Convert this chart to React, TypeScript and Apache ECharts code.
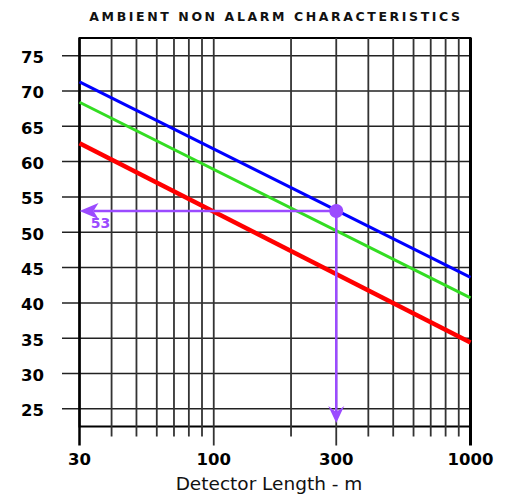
import React, { useEffect, useRef } from "react";
import * as echarts from "echarts";

// ---- chart content ----
const chartTitle = "AMBIENT NON ALARM CHARACTERISTICS";
const xAxisTitle = "Detector Length - m";
const xGridValues = [30, 40, 50, 60, 70, 80, 90, 100, 200, 300, 400, 500, 600, 700, 800, 900, 1000];
const xTickLabels = [30, 100, 300, 1000];
const yTickValues = [25, 30, 35, 40, 45, 50, 55, 60, 65, 70, 75];
const lineX = [30, 1000];
const blueValues = [71.3, 43.6];
const greenValues = [68.4, 40.7];
const redValues = [62.6, 34.4];
const markerX = 300;
const markerY = 53;
const markerLabel = "53";
const arrowDownTo = 23;

const X_MIN = 30;
const X_MAX = 1000;
const Y_MIN = 22.5;
const Y_MAX = 77.5;

const PURPLE = "#9b4bff";
const FONT = '"DejaVu Sans", sans-serif';

export default function App() {
  const ref = useRef<HTMLDivElement>(null);

  useEffect(() => {
    if (!ref.current) return;
    const chart = echarts.init(ref.current, undefined, { renderer: "svg" });

    const toPairs = (vals: number[]) => lineX.map((x, i) => [x, vals[i]]);

    const option: any = {
      animation: false,
      backgroundColor: "#fff",
      grid: {
        left: 79.5,
        right: 38.5,
        top: 38,
        bottom: 69.5,
        show: true,
        borderColor: "#000",
        borderWidth: 2,
        backgroundColor: "transparent",
      },
      xAxis: {
        type: "log",
        logBase: 10,
        min: X_MIN,
        max: X_MAX,
        axisLine: { show: false },
        axisTick: { show: false },
        axisLabel: { show: false },
        splitLine: { show: false },
        minorSplitLine: { show: false },
      },
      yAxis: {
        type: "value",
        min: Y_MIN,
        max: Y_MAX,
        axisLine: { show: false },
        axisTick: { show: false },
        axisLabel: { show: false },
        splitLine: { show: false },
      },
      graphic: [
        {
          type: "text",
          x: 276,
          y: 16,
          style: {
            text: chartTitle,
            align: "center",
            verticalAlign: "middle",
            font: `bold 12.5px ${FONT}`,
            fill: "#111",
          },
        },
        {
          type: "text",
          x: 269,
          y: 483,
          style: {
            text: xAxisTitle,
            align: "center",
            verticalAlign: "middle",
            font: `18.5px ${FONT}`,
            fill: "#111",
          },
        },
      ],
      series: [
        {
          type: "custom",
          name: "hgrid",
          clip: false,
          silent: true,
          z: 1,
          data: yTickValues.map((v) => [X_MIN, v]),
          renderItem: (params: any, api: any) => {
            const v = api.value(1);
            const l = api.coord([X_MIN, v]);
            const r = api.coord([X_MAX, v]);
            return {
              type: "group",
              children: [
                {
                  type: "line",
                  shape: { x1: l[0] - 17.5, y1: l[1], x2: r[0], y2: r[1] },
                  style: { stroke: "#222", lineWidth: 1.5 },
                },
                {
                  type: "text",
                  style: {
                    text: String(v),
                    x: l[0] - 35.5,
                    y: l[1] + 2,
                    align: "right",
                    verticalAlign: "middle",
                    font: `bold 16.5px ${FONT}`,
                    fill: "#000",
                  },
                },
              ],
            };
          },
        },
        {
          type: "custom",
          name: "vgrid",
          clip: false,
          silent: true,
          z: 1,
          data: xGridValues.map((v) => [v, Y_MIN]),
          renderItem: (params: any, api: any) => {
            const v = api.value(0);
            const top = api.coord([v, Y_MAX]);
            const bot = api.coord([v, Y_MIN]);
            const major = xTickLabels.indexOf(v) >= 0;
            const border = v === X_MIN || v === X_MAX;
            const children: any[] = [
              {
                type: "line",
                shape: { x1: top[0], y1: top[1], x2: bot[0], y2: bot[1] + (major ? 19 : 10) },
                style: {
                  stroke: border ? "#000" : "#333",
                  lineWidth: border ? (v === X_MAX ? 3 : 2.5) : 1.8,
                },
              },
            ];
            if (major) {
              children.push({
                type: "text",
                style: {
                  text: String(v),
                  x: bot[0],
                  y: bot[1] + 33,
                  align: "center",
                  verticalAlign: "middle",
                  font: `bold 16.5px ${FONT}`,
                  fill: "#000",
                },
              });
            }
            return { type: "group", children };
          },
        },
        {
          type: "line",
          name: "red",
          data: toPairs(redValues),
          symbol: "none",
          z: 3,
          lineStyle: { color: "#ff0000", width: 4.5 },
        },
        {
          type: "line",
          name: "green",
          data: toPairs(greenValues),
          symbol: "none",
          z: 3,
          lineStyle: { color: "#33dd22", width: 3 },
        },
        {
          type: "line",
          name: "blue",
          data: toPairs(blueValues),
          symbol: "none",
          z: 3,
          lineStyle: { color: "#0000ff", width: 3 },
        },
        {
          type: "custom",
          name: "marker",
          clip: false,
          silent: true,
          z: 4,
          data: [[markerX, markerY]],
          renderItem: (params: any, api: any) => {
            const p = api.coord([api.value(0), api.value(1)]);
            const left = api.coord([X_MIN, api.value(1)]);
            const down = api.coord([api.value(0), arrowDownTo]);
            const lx = left[0];
            const y = p[1];
            return {
              type: "group",
              children: [
                {
                  type: "line",
                  shape: { x1: p[0], y1: y, x2: lx + 14, y2: y },
                  style: { stroke: PURPLE, lineWidth: 2.5 },
                },
                {
                  type: "polygon",
                  shape: {
                    points: [
                      [lx, y],
                      [lx + 19, y - 8],
                      [lx + 14, y],
                      [lx + 19, y + 8],
                    ],
                  },
                  style: { fill: PURPLE },
                },
                {
                  type: "line",
                  shape: { x1: p[0], y1: y, x2: down[0], y2: down[1] - 11 },
                  style: { stroke: PURPLE, lineWidth: 2.5 },
                },
                {
                  type: "polygon",
                  shape: {
                    points: [
                      [down[0], down[1]],
                      [down[0] - 8, down[1] - 17],
                      [down[0], down[1] - 11],
                      [down[0] + 8, down[1] - 17],
                    ],
                  },
                  style: { fill: PURPLE },
                },
                {
                  type: "circle",
                  shape: { cx: p[0], cy: y, r: 7 },
                  style: { fill: PURPLE },
                },
                {
                  type: "text",
                  style: {
                    text: markerLabel,
                    x: lx + 21,
                    y: y + 12,
                    align: "center",
                    verticalAlign: "middle",
                    font: `bold 14px ${FONT}`,
                    fill: PURPLE,
                  },
                },
              ],
            };
          },
        },
      ],
    };

    chart.setOption(option);

    const applySpacing = () => {
      const root = ref.current;
      if (!root) return;
      root.querySelectorAll("text").forEach((t) => {
        if ((t.textContent || "").indexOf("AMBIENT") >= 0) {
          t.setAttribute("letter-spacing", "2.6");
        }
      });
    };
    applySpacing();
    chart.on("finished", applySpacing);
    const timer = setTimeout(applySpacing, 50);

    return () => {
      clearTimeout(timer);
      chart.dispose();
    };
  }, []);

  return (
    <div
      ref={ref}
      style={{ position: "absolute", left: 0, top: 0, width: 509, height: 496, background: "#fff" }}
    />
  );
}
